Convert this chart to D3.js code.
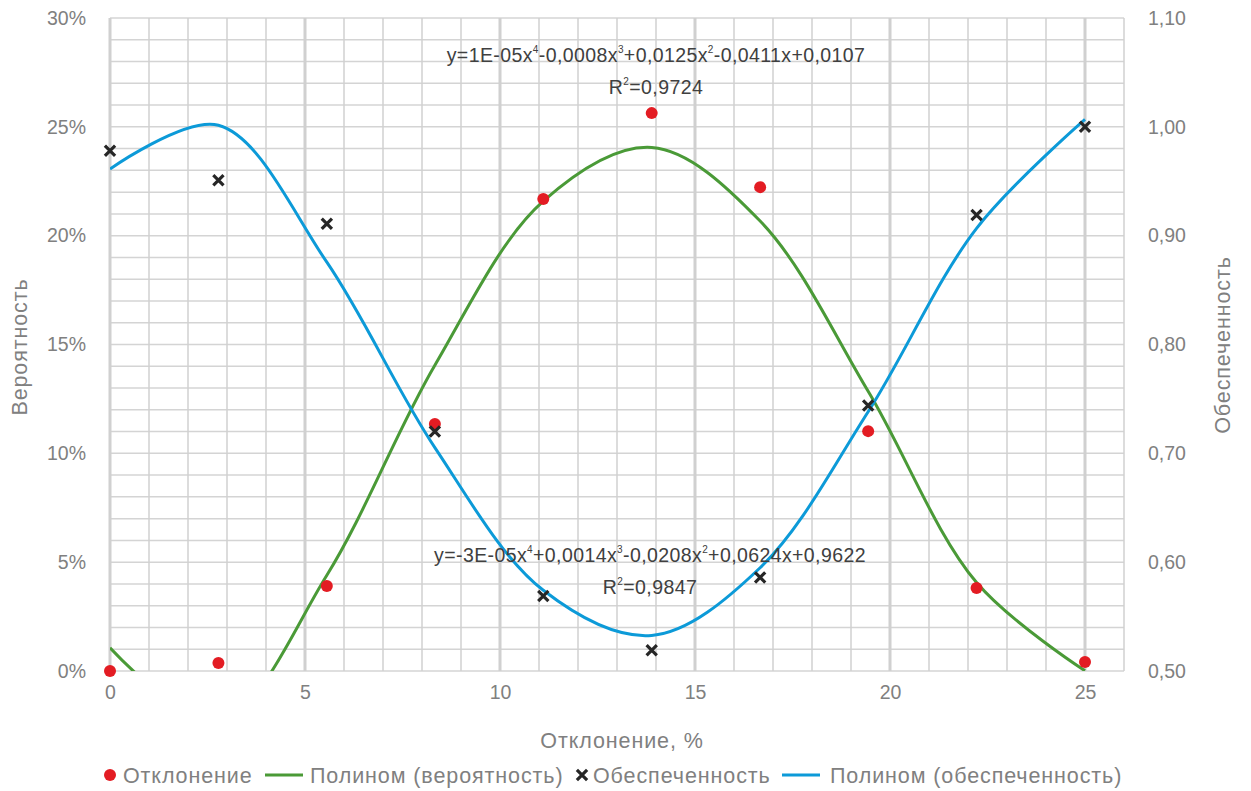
<!DOCTYPE html>
<html>
<head>
<meta charset="utf-8">
<script src="https://cdn.jsdelivr.net/npm/d3@7"></script>
<style>
  body { margin: 0; background: #fff; }
  svg { font-family: "Liberation Sans", Arial, sans-serif; }
</style>
</head>
<body>
<div id="chart"></div>
<script>
// deviation, %
const xValues = [0, 2.78, 5.56, 8.33, 11.11, 13.89, 16.67, 19.44, 22.22, 25];
// probability (left axis, fraction)
const probability = [0, 0.0037, 0.039, 0.1135, 0.2168, 0.2563, 0.2223, 0.1102, 0.0381, 0.0041];
// provision (right axis)
const provision = [0.978, 0.951, 0.911, 0.720, 0.569, 0.519, 0.586, 0.744, 0.919, 1.000];

const xTicks = [0, 5, 10, 15, 20, 25];
const leftTicks = [0, 0.05, 0.10, 0.15, 0.20, 0.25, 0.30];
const rightTicks = [0.5, 0.6, 0.7, 0.8, 0.9, 1.0, 1.1];

const eqTop = { y: "y=1E-05x", parts: [["4", "-0,0008x"], ["3", "+0,0125x"], ["2", "-0,0411x+0,0107"]], r2: "0,9724" };
const eqBottom = { y: "y=-3E-05x", parts: [["4", "+0,0014x"], ["3", "-0,0208x"], ["2", "+0,0624x+0,9622"]], r2: "0,9847" };

const W = 1251, H = 791;
const margin = { left: 110, right: 127, top: 18, bottom: 120 };
const w = W - margin.left - margin.right, h = H - margin.top - margin.bottom;

const x = d3.scaleLinear().domain([0, 26]).range([0, w]);
const yL = d3.scaleLinear().domain([0, 0.30]).range([h, 0]);
const yR = d3.scaleLinear().domain([0.5, 1.1]).range([h, 0]);

// least squares polynomial fit (trendline)
function polyfit(xs, ys, deg) {
  const n = deg + 1;
  const A = [];
  for (let i = 0; i < n; i++) {
    A.push(new Array(n + 1).fill(0));
    for (let j = 0; j < n; j++) A[i][j] = d3.sum(xs, v => Math.pow(v, i + j));
    A[i][n] = d3.sum(xs, (v, k) => ys[k] * Math.pow(v, i));
  }
  for (let c = 0; c < n; c++) {
    let p = c;
    for (let r = c + 1; r < n; r++) if (Math.abs(A[r][c]) > Math.abs(A[p][c])) p = r;
    [A[c], A[p]] = [A[p], A[c]];
    for (let r = 0; r < n; r++) {
      if (r === c) continue;
      const f = A[r][c] / A[c][c];
      for (let k = c; k <= n; k++) A[r][k] -= f * A[c][k];
    }
  }
  const coef = A.map((row, i) => row[n] / row[i]);
  return v => coef.reduce((s, cf, i) => s + cf * Math.pow(v, i), 0);
}

const fitP = polyfit(xValues, probability, 4);
const fitO = polyfit(xValues, provision, 4);

const svg = d3.select("#chart").append("svg").attr("width", W).attr("height", H);
svg.append("defs").append("clipPath").attr("id", "clip")
  .append("rect").attr("width", w).attr("height", h);

const g = svg.append("g").attr("transform", "translate(" + margin.left + "," + margin.top + ")");

// grid
g.selectAll(".hgrid").data(d3.range(0, 31)).enter().append("line")
  .attr("x1", 0).attr("x2", w)
  .attr("y1", d => yL(d / 100)).attr("y2", d => yL(d / 100))
  .attr("stroke", "#d4d4d4").attr("stroke-width", 1.5);
g.selectAll(".vgrid").data(d3.range(0, 27)).enter().append("line")
  .attr("x1", d => x(d)).attr("x2", d => x(d))
  .attr("y1", 0).attr("y2", h)
  .attr("stroke", "#d0d0d0").attr("stroke-width", d => (d % 5 === 0 && d <= 25) ? 3 : 1.5);

// axes
const axB = g.append("g").attr("transform", "translate(0," + h + ")")
  .call(d3.axisBottom(x).tickValues(xTicks).tickSize(0).tickPadding(14).tickFormat(d3.format("d")));
const axL = g.append("g")
  .call(d3.axisLeft(yL).tickValues(leftTicks).tickSize(0).tickPadding(24).tickFormat(d => Math.round(d * 100) + "%"));
const axR = g.append("g").attr("transform", "translate(" + w + ",0)")
  .call(d3.axisRight(yR).tickValues(rightTicks).tickSize(0).tickPadding(24).tickFormat(d => d3.format(".2f")(d).replace(".", ",")));
[axB, axL, axR].forEach(a => {
  a.select(".domain").remove();
  a.selectAll("text").attr("fill", "#808080").attr("font-size", 19.5);
});

// trendlines: polynomial evaluated at the data x-values, smoothed like the spreadsheet does
const plot = g.append("g").attr("clip-path", "url(#clip)");
const smooth = d3.line().curve(d3.curveCatmullRom.alpha(0.5));
plot.append("path")
  .attr("fill", "none").attr("stroke", "#4a9a37").attr("stroke-width", 3)
  .attr("d", smooth(xValues.map(d => [x(d), yL(fitP(d))])));
plot.append("path")
  .attr("fill", "none").attr("stroke", "#0c9ad8").attr("stroke-width", 3)
  .attr("d", smooth(xValues.map(d => [x(d), yR(fitO(d))])));

// points
const cross = d3.symbol().type(d3.symbolX).size(70);
g.selectAll(".pt").data(xValues).enter().append("circle")
  .attr("cx", d => x(d)).attr("cy", (d, i) => yL(probability[i]))
  .attr("r", 6).attr("fill", "#e31c23");
g.selectAll(".cx").data(xValues).enter().append("path")
  .attr("d", cross)
  .attr("transform", (d, i) => "translate(" + x(d) + "," + yR(provision[i]) + ")")
  .attr("fill", "none").attr("stroke", "#262626").attr("stroke-width", 3.2);

// equations
function equation(eq, cx, cy) {
  const t = g.append("text").attr("x", cx).attr("y", cy).attr("text-anchor", "middle")
    .attr("fill", "#404040").attr("font-size", 19.5).attr("letter-spacing", 0.4);
  t.append("tspan").text(eq.y);
  eq.parts.forEach(p => {
    t.append("tspan").attr("font-size", 10).attr("dy", -9).text(p[0]);
    t.append("tspan").attr("dy", 9).text(p[1]);
  });
  const r = g.append("text").attr("x", cx).attr("y", cy + 32).attr("text-anchor", "middle")
    .attr("fill", "#404040").attr("font-size", 19.5).attr("letter-spacing", 0.4);
  r.append("tspan").text("R");
  r.append("tspan").attr("font-size", 10).attr("dy", -9).text("2");
  r.append("tspan").attr("dy", 9).text("=" + eq.r2);
}
equation(eqTop, 656 - margin.left, 62 - margin.top);
equation(eqBottom, 650 - margin.left, 562 - margin.top);

// axis titles
const titleStyle = s => s.attr("fill", "#808080").attr("font-size", 21.5).attr("letter-spacing", 0.9);
svg.append("text").attr("x", 622).attr("y", 748).attr("text-anchor", "middle")
  .call(titleStyle).text("Отклонение, %");
svg.append("text").attr("transform", "translate(27,347) rotate(-90)").attr("text-anchor", "middle")
  .call(titleStyle).text("Вероятность");
svg.append("text").attr("transform", "translate(1230,345) rotate(-90)").attr("text-anchor", "middle")
  .call(titleStyle).text("Обеспеченность");

// legend
const lg = svg.append("g").attr("transform", "translate(0,775)");
lg.append("circle").attr("cx", 110).attr("cy", 0).attr("r", 6).attr("fill", "#e31c23");
lg.append("text").attr("x", 123).attr("y", 7.5).text("Отклонение");
lg.append("line").attr("x1", 265).attr("x2", 303).attr("stroke", "#4a9a37").attr("stroke-width", 3);
lg.append("text").attr("x", 310).attr("y", 7.5).text("Полином (вероятность)");
lg.append("path").attr("d", cross).attr("transform", "translate(582,0)")
  .attr("fill", "none").attr("stroke", "#262626").attr("stroke-width", 3.2);
lg.append("text").attr("x", 593).attr("y", 7.5).text("Обеспеченность");
lg.append("line").attr("x1", 782).attr("x2", 820).attr("stroke", "#0c9ad8").attr("stroke-width", 3);
lg.append("text").attr("x", 830).attr("y", 7.5).text("Полином (обеспеченность)");
lg.selectAll("text").call(titleStyle);
</script>
</body>
</html>
